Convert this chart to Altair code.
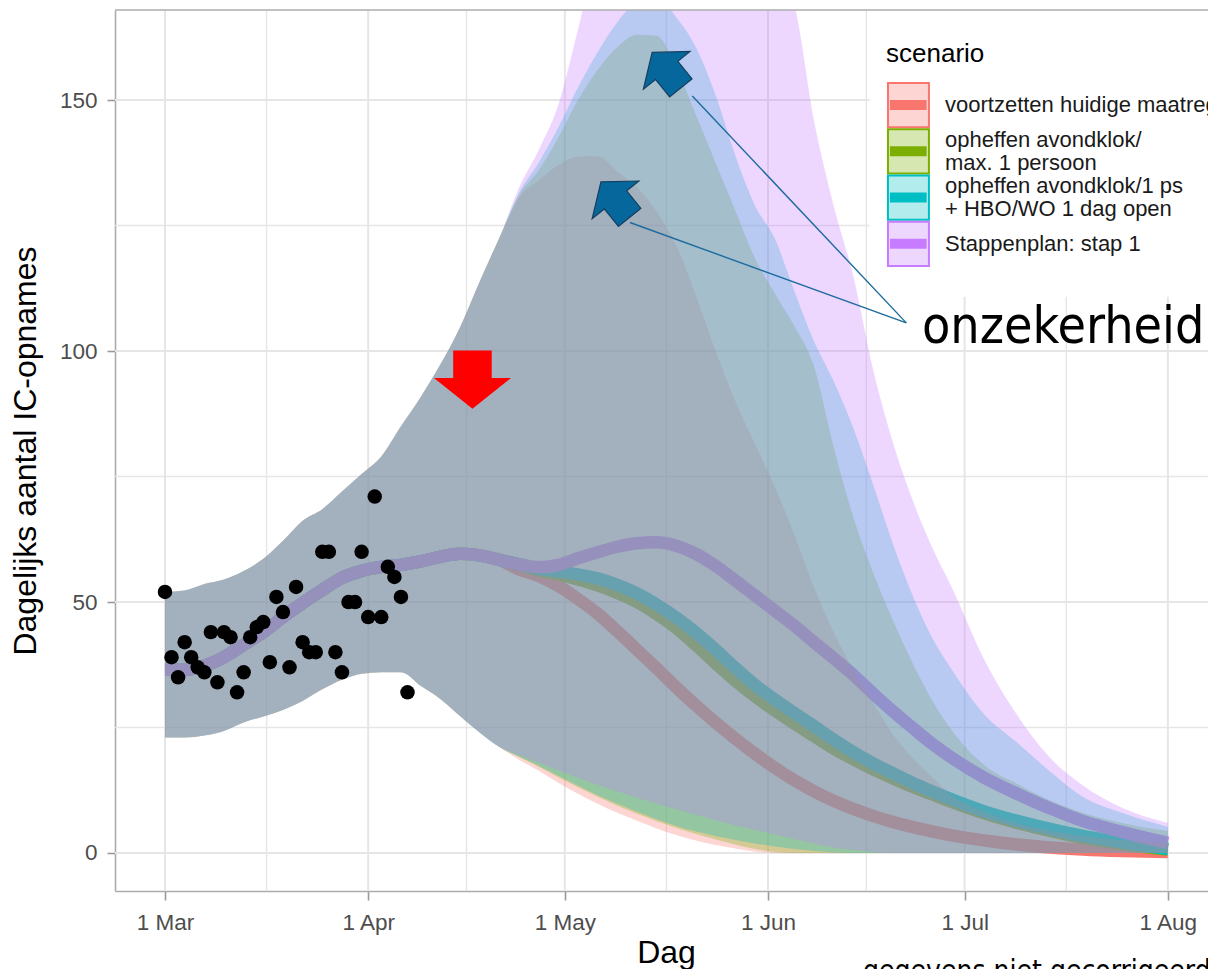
import altair as alt
import pandas as pd

# ---------------- categories & colours ----------------
SCENARIOS = [
    "voortzetten huidige maatregelen",
    "opheffen avondklok/\nmax. 1 persoon",
    "opheffen avondklok/1 ps\n+ HBO/WO 1 dag open",
    "Stappenplan: stap 1",
]
SCENARIO_COLORS = ["#F8766D", "#7CAE00", "#00BFC4", "#C77CFF"]

# ---------------- shared history (all scenarios) ----------------
HIST_DATES = ["2021-03-01", "2021-03-04", "2021-03-07", "2021-03-10", "2021-03-13", "2021-03-16",
              "2021-03-19", "2021-03-22", "2021-03-25", "2021-03-28", "2021-03-31", "2021-04-03",
              "2021-04-06", "2021-04-09", "2021-04-12", "2021-04-15", "2021-04-18", "2021-04-21"]
HIST_MEDIAN = [36.5, 36.5, 37.3, 39.0, 41.5, 44.0, 47.0, 49.8, 52.4, 54.8, 56.2, 57.0, 57.4, 58.1, 59.0, 59.6, 59.3, 58.4]
HIST_UPPER = [52.0, 52.3, 53.6, 54.5, 56.2, 58.6, 62.2, 66.2, 68.5, 72.0, 75.5, 79.0, 85.0, 90.8, 97.3, 104.7, 113.8, 122.5]
HIST_LOWER = [23.0, 23.0, 23.4, 24.3, 26.0, 27.2, 28.5, 30.3, 32.6, 34.5, 35.7, 36.0, 36.0, 33.3, 30.7, 27.3, 24.0, 21.1]

# ---------------- projections per scenario ----------------
PROJ_DATES = ["2021-04-24", "2021-04-27", "2021-04-30", "2021-05-03", "2021-05-06", "2021-05-09",
              "2021-05-12", "2021-05-15", "2021-05-18", "2021-05-21", "2021-05-24", "2021-05-27",
              "2021-05-30", "2021-06-02", "2021-06-05", "2021-06-08", "2021-06-11", "2021-06-14",
              "2021-06-17", "2021-06-20", "2021-06-23", "2021-06-26", "2021-06-29", "2021-07-04",
              "2021-07-09", "2021-07-14", "2021-07-19", "2021-07-25", "2021-08-01"]

MEDIAN_HUIDIG = [56.5, 55.2, 53.2, 50.6, 47.7, 44.2, 40.5, 36.8, 33.0, 29.4, 26.0, 22.8, 19.8, 17.0, 14.5,
                 12.3, 10.4, 8.8, 7.4, 6.2, 5.2, 4.3, 3.5, 2.5, 1.7, 1.1, 0.7, 0.4, 0.2]
MEDIAN_AVONDKLOK = [57.5, 56.3, 55.5, 54.5, 53.3, 51.8, 50.0, 47.6, 44.8, 41.4, 37.8, 34.3, 31.2, 28.4, 25.8,
                    23.3, 20.8, 18.7, 16.7, 14.9, 13.2, 11.7, 10.2, 7.9, 6.0, 4.4, 3.0, 1.8, 0.7]
MEDIAN_HBO = [57.5, 56.6, 56.1, 55.5, 54.7, 53.4, 51.7, 49.5, 46.9, 43.9, 40.5, 36.9, 33.5, 30.6, 27.9,
              25.3, 22.6, 20.1, 17.9, 15.9, 14.0, 12.3, 10.7, 8.3, 6.4, 4.8, 3.4, 2.1, 0.8]
MEDIAN_STAP1 = [57.5, 56.9, 57.4, 58.7, 59.9, 61.0, 61.7, 61.9, 61.2, 59.6, 57.2, 54.3, 51.3, 48.3, 45.3,
                42.0, 38.8, 35.5, 31.8, 28.3, 25.0, 21.8, 19.0, 15.0, 11.8, 8.9, 6.4, 4.2, 2.0]

UPPER_HUIDIG = [130.5, 134.0, 137.0, 138.7, 138.8, 135.8, 132.6, 127.8, 121.0, 111.0, 100.0, 90.0, 81.5, 73.0,
                63.5, 53.0, 44.0, 36.5, 30.0, 23.7, 19.0, 15.2, 11.5, 8.2, 6.0, 4.5, 3.4, 2.6, 2.0]
UPPER_AVONDKLOK = [131.0, 136.0, 142.5, 150.0, 156.0, 160.5, 163.0, 162.8, 156.5, 147.0, 137.5, 128.0, 118.5,
                   111.5, 105.0, 97.0, 81.0, 67.0, 56.0, 46.5, 38.0, 30.5, 24.5, 17.5, 13.8, 10.5, 8.0, 6.0, 4.4]
UPPER_HBO = [131.5, 137.5, 144.5, 152.5, 159.5, 165.5, 169.5, 170.5, 166.5, 160.5, 151.0, 139.0, 129.0, 122.5,
             112.0, 102.0, 94.0, 84.7, 73.5, 61.8, 51.5, 43.0, 36.6, 27.6, 22.0, 16.3, 11.2, 8.0, 5.2]
UPPER_STAP1 = [132.5, 140.0, 149.0, 164.0, 180.0, 190.0, 197.0, 200.0, 200.0, 197.0, 191.0, 184.0, 180.0, 176.0,
               169.0, 146.0, 129.0, 115.0, 96.5, 82.0, 70.5, 61.0, 53.0, 38.5, 27.5, 19.0, 13.5, 9.0, 6.0]

LOWER_HUIDIG = [18.6, 16.4, 14.0, 11.8, 9.8, 8.0, 6.4, 4.9, 3.6, 2.5, 1.6, 0.9, 0.3, 0.0, 0.0,
                0.0, 0.0, 0.0, 0.0, 0.0, 0.0, 0.0, 0.0, 0.0, 0.0, 0.0, 0.0, 0.0, 0.0]
LOWER_AVONDKLOK = [19.1, 17.2, 15.1, 13.1, 11.2, 9.4, 7.8, 6.3, 5.0, 3.8, 2.7, 1.7, 0.8, 0.2, 0.0,
                   0.0, 0.0, 0.0, 0.0, 0.0, 0.0, 0.0, 0.0, 0.0, 0.0, 0.0, 0.0, 0.0, 0.0]
LOWER_HBO = [19.2, 17.4, 15.4, 13.4, 11.5, 9.8, 8.2, 6.7, 5.4, 4.3, 3.4, 2.6, 1.9, 1.3, 0.8,
             0.4, 0.1, 0.0, 0.0, 0.0, 0.0, 0.0, 0.0, 0.0, 0.0, 0.0, 0.0, 0.0, 0.0]
LOWER_STAP1 = [19.5, 18.0, 16.5, 15.0, 13.6, 12.3, 11.0, 9.8, 8.7, 7.6, 6.5, 5.5, 4.6, 3.7, 2.8,
               1.9, 1.1, 0.6, 0.2, 0.0, 0.0, 0.0, 0.0, 0.0, 0.0, 0.0, 0.0, 0.0, 0.0]

PROJ_MEDIAN = [MEDIAN_HUIDIG, MEDIAN_AVONDKLOK, MEDIAN_HBO, MEDIAN_STAP1]
PROJ_UPPER = [UPPER_HUIDIG, UPPER_AVONDKLOK, UPPER_HBO, UPPER_STAP1]
PROJ_LOWER = [LOWER_HUIDIG, LOWER_AVONDKLOK, LOWER_HBO, LOWER_STAP1]

# ---------------- observed daily IC admissions ----------------
OBS_START = "2021-03-01"
OBS_VALUES = [52, 39, 35, 42, 39, 37, 36, 44, 34, 44, 43, 32, 36, 43, 45, 46, 38, 51, 48, 37,
              53, 42, 40, 40, 60, 60, 40, 36, 50, 50, 60, 47, 71, 47, 57, 55, 51, 32]

# ---------------- axes ----------------
X_TICK_DATES = ["2021-03-01", "2021-04-01", "2021-05-01", "2021-06-01", "2021-07-01", "2021-08-01"]
X_MINOR_DATES = ["2021-03-16T12:00:00", "2021-04-16T00:00:00", "2021-05-16T12:00:00",
                 "2021-06-16T00:00:00", "2021-07-16T12:00:00"]
Y_TICKS = [0, 50, 100, 150]
Y_MINOR = [25, 75, 125]
Y_MIN, Y_MAX = -7.57, 167.93
X_START, X_END = "2021-02-21T09:00:00", "2021-08-07T03:00:00"

# ---------------- annotations (data coordinates) ----------------
RED_ARROW_AT = ("2021-04-16T21:50:00", 94.3)
BLUE_ARROWS_AT = [("2021-05-08T17:30:00", 130.1), ("2021-05-16T13:00:00", 155.9)]
POINTER_STARTS = [("2021-05-10T22:30:00", 125.6), ("2021-05-20T10:48:00", 150.8)]
POINTER_END = ("2021-06-22T02:24:00", 105.6)
LABEL_TEXT = "onzekerheid"
LABEL_AT = ("2021-06-24T11:45:00", 101.6)
NOTE_TEXT = "gegevens niet gecorrigeerd"
NOTE_AT = ("2021-06-15T12:00:00", -25.3)

# ---------------- legend placement (data coordinates) ----------------
LEGEND_BOX = ("2021-06-16T12:00:00", X_END, 110.8, Y_MAX)
LEGEND_TITLE = "scenario"
LEGEND_TITLE_AT = ("2021-06-19T00:00:00", 157.6)
LEGEND_KEY_X = ("2021-06-19T07:12:00", "2021-06-25T13:12:00")
LEGEND_BAR_X = ("2021-06-19T14:24:00", "2021-06-25T04:48:00")
LEGEND_LABEL_X = "2021-06-28T00:00:00"
LEGEND_TOP = 153.59      # top edge of the first key
LEGEND_ROW = 9.213       # key height (value units)
LEGEND_LINE = 4.58       # label line spacing (value units)

# ---------------- build tables ----------------
band_rows, line_rows = [], []
for i, s in enumerate(SCENARIOS):
    dates = HIST_DATES + PROJ_DATES
    med = HIST_MEDIAN + PROJ_MEDIAN[i]
    up = HIST_UPPER + PROJ_UPPER[i]
    lo = HIST_LOWER + PROJ_LOWER[i]
    for d, m, u, l in zip(dates, med, up, lo):
        band_rows.append({"date": pd.Timestamp(d), "scenario": s, "upper": u, "lower": l})
        line_rows.append({"date": pd.Timestamp(d), "scenario": s, "median": m})
bands_df = pd.DataFrame(band_rows)
lines_df = pd.DataFrame(line_rows)
obs_df = pd.DataFrame({"date": pd.date_range(OBS_START, periods=len(OBS_VALUES), freq="D"),
                       "value": OBS_VALUES})

leg_rows = []
for i, s in enumerate(SCENARIOS):
    top = LEGEND_TOP - i * LEGEND_ROW
    centre = top - LEGEND_ROW / 2
    n_lines = s.count("\n") + 1
    leg_rows.append({
        "scenario": s,
        "kx0": pd.Timestamp(LEGEND_KEY_X[0]), "kx1": pd.Timestamp(LEGEND_KEY_X[1]),
        "bx0": pd.Timestamp(LEGEND_BAR_X[0]), "bx1": pd.Timestamp(LEGEND_BAR_X[1]),
        "lx": pd.Timestamp(LEGEND_LABEL_X),
        "ky0": top - 0.2, "ky1": top - LEGEND_ROW + 0.2, "kc": centre,
        "ly": centre + (n_lines - 1) * LEGEND_LINE / 2,
    })
leg_df = pd.DataFrame(leg_rows)


def dt(s):
    t = pd.Timestamp(s)
    return alt.DateTime(year=t.year, month=t.month, date=t.day, hours=t.hour, minutes=t.minute)


X_SCALE = alt.Scale(domain=[dt(X_START), dt(X_END)], nice=False)
Y_SCALE = alt.Scale(domain=[Y_MIN, Y_MAX], nice=False, zero=False)

X_AXIS = alt.Axis(values=[dt(d) for d in X_TICK_DATES], format="%-d %b", title="Dag",
                  labelFlush=False, labelPadding=11, tickSize=9, grid=False,
                  titleX=551, titleY=71, titleBaseline="alphabetic")
Y_AXIS = alt.Axis(values=Y_TICKS, title="Dagelijks aantal IC-opnames", labelPadding=10, tickSize=8,
                  grid=False, titleX=-80, titleBaseline="alphabetic")


def X(field):
    return alt.X(field, type="temporal", scale=X_SCALE, axis=X_AXIS)


def Y(field):
    return alt.Y(field, type="quantitative", scale=Y_SCALE, axis=Y_AXIS)


FILL_SCALE = alt.Scale(domain=SCENARIOS, range=SCENARIO_COLORS)
STROKE_SCALE = alt.Scale(domain=SCENARIOS, range=SCENARIO_COLORS)
GRID_COLOR = "#e6e6e6"

grid_y_major = alt.Chart(pd.DataFrame({"v": Y_TICKS})).mark_rule(
    color=GRID_COLOR, strokeWidth=2).encode(y=Y("v"))
grid_y_minor = alt.Chart(pd.DataFrame({"v": Y_MINOR})).mark_rule(
    color=GRID_COLOR, strokeWidth=1.4).encode(y=Y("v"))
grid_x_major = alt.Chart(pd.DataFrame({"d": pd.to_datetime(X_TICK_DATES)})).mark_rule(
    color=GRID_COLOR, strokeWidth=2).encode(x=X("d"))
grid_x_minor = alt.Chart(pd.DataFrame({"d": pd.to_datetime(X_MINOR_DATES)})).mark_rule(
    color=GRID_COLOR, strokeWidth=1.4).encode(x=X("d"))

lines = alt.Chart(lines_df).mark_line(strokeWidth=12.5, interpolate="monotone", strokeCap="butt",
                                      clip=True).encode(
    x=X("date"), y=Y("median"),
    stroke=alt.Stroke("scenario:N", scale=STROKE_SCALE, legend=None),
)
bands = alt.Chart(bands_df).mark_area(fillOpacity=0.3, interpolate="monotone", clip=True).encode(
    x=X("date"), y=Y("upper"), y2=alt.Y2("lower"),
    fill=alt.Fill("scenario:N", scale=FILL_SCALE, legend=None),
)
points = alt.Chart(obs_df).mark_circle(size=210, color="#000000", opacity=1).encode(
    x=X("date"), y=Y("value"))

legend_box = alt.Chart(pd.DataFrame({
    "x0": [pd.Timestamp(LEGEND_BOX[0])], "x1": [pd.Timestamp(LEGEND_BOX[1])],
    "y0": [LEGEND_BOX[2]], "y1": [LEGEND_BOX[3]]})).mark_rect(color="#ffffff", opacity=1).encode(
    x=X("x0"), x2=alt.X2("x1"), y=Y("y0"), y2=alt.Y2("y1"))

top_border = alt.Chart(pd.DataFrame({"v": [Y_MAX]})).mark_rule(
    color="#acacac", strokeWidth=1.6).encode(y=Y("v"))

# legend (ggplot style keys: light fill, coloured border, thick line)
legend_title = alt.Chart(pd.DataFrame({"date": [pd.Timestamp(LEGEND_TITLE_AT[0])],
                                       "v": [LEGEND_TITLE_AT[1]], "t": [LEGEND_TITLE]})).mark_text(
    align="left", baseline="alphabetic", font="Liberation Sans", fontSize=26,
    color="#000000").encode(x=X("date"), y=Y("v"), text="t:N")
legend_keys = alt.Chart(leg_df).mark_rect(fillOpacity=0.3, strokeWidth=2, strokeOpacity=1).encode(
    x=X("kx0"), x2=alt.X2("kx1"), y=Y("ky0"), y2=alt.Y2("ky1"),
    fill=alt.Fill("scenario:N", scale=FILL_SCALE, legend=None),
    stroke=alt.Stroke("scenario:N", scale=STROKE_SCALE, legend=None))
legend_bars = alt.Chart(leg_df).mark_rule(strokeWidth=10, strokeCap="butt").encode(
    x=X("bx0"), x2=alt.X2("bx1"), y=Y("kc"),
    stroke=alt.Stroke("scenario:N", scale=STROKE_SCALE, legend=None))
legend_labels = alt.Chart(leg_df).mark_text(
    align="left", baseline="middle", font="Liberation Sans", fontSize=22, lineBreak="\n",
    lineHeight=23, color="#1a1a1a").encode(x=X("lx"), y=Y("ly"), text="scenario:N")

RED_ARROW_PATH = "M-0.5,-0.757L0.5,-0.757L0.5,-0.04L1,-0.04L0,0.757L-1,-0.04L-0.5,-0.04Z"
red_arrow = alt.Chart(pd.DataFrame({"date": [pd.Timestamp(RED_ARROW_AT[0])],
                                    "v": [RED_ARROW_AT[1]]})).mark_point(
    shape=RED_ARROW_PATH, size=5929, filled=True, fill="#ff0000", strokeWidth=0, opacity=1).encode(
    x=X("date"), y=Y("v"))

pointer_df = pd.DataFrame({
    "x0": [pd.Timestamp(p[0]) for p in POINTER_STARTS],
    "y0": [p[1] for p in POINTER_STARTS],
    "x1": [pd.Timestamp(POINTER_END[0])] * len(POINTER_STARTS),
    "y1": [POINTER_END[1]] * len(POINTER_STARTS),
})
pointers = alt.Chart(pointer_df).mark_rule(color="#1d6b9e", strokeWidth=1.4).encode(
    x=X("x0"), y=Y("y0"), x2=alt.X2("x1"), y2=alt.Y2("y1"))

BLUE_ARROW_PATH = "M0,-0.77L1,0L0.48,0L0.48,0.75L-0.48,0.75L-0.48,0L-1,0Z"
blue_arrows = alt.Chart(pd.DataFrame({
    "date": [pd.Timestamp(a[0]) for a in BLUE_ARROWS_AT],
    "v": [a[1] for a in BLUE_ARROWS_AT]})).mark_point(
    shape=BLUE_ARROW_PATH, size=3600, filled=True, fill="#05679b", stroke="#163f60",
    strokeWidth=1.2, angle=321, opacity=1).encode(x=X("date"), y=Y("v"))

label = alt.Chart(pd.DataFrame({"date": [pd.Timestamp(LABEL_AT[0])], "v": [LABEL_AT[1]],
                                "t": [LABEL_TEXT]})).mark_text(
    align="left", baseline="alphabetic", font="DejaVu Sans Condensed", fontSize=51.5,
    color="#000000").encode(x=X("date"), y=Y("v"), text="t:N")

note = alt.Chart(pd.DataFrame({"date": [pd.Timestamp(NOTE_AT[0])], "v": [NOTE_AT[1]],
                               "t": [NOTE_TEXT]})).mark_text(
    align="left", baseline="alphabetic", font="DejaVu Sans Condensed", fontSize=28,
    color="#000000").encode(x=X("date"), y=Y("v"), text="t:N")

chart = alt.layer(
    grid_y_minor, grid_y_major, grid_x_minor, grid_x_major,
    lines, bands, points,
    legend_box, top_border,
    legend_title, legend_keys, legend_bars, legend_labels,
    red_arrow, pointers, blue_arrows, label, note,
).properties(
    width=1093, height=881,
    autosize=alt.AutoSizeParams(type="none"),
    padding={"left": 107, "top": 2, "right": 0, "bottom": 78},
).configure(font="Liberation Sans").configure_view(strokeWidth=0).configure_axis(
    labelFont="Liberation Sans", labelFontSize=22.5, labelColor="#4d4d4d",
    titleFont="Liberation Sans", titleFontSize=32, titleFontWeight="normal", titleColor="#000000",
    tickColor="#9a9a9a", tickWidth=1.6, domainColor="#acacac", domainWidth=1.6,
)

chart.save("out.html", embed_options={"renderer": "svg", "actions": False})
